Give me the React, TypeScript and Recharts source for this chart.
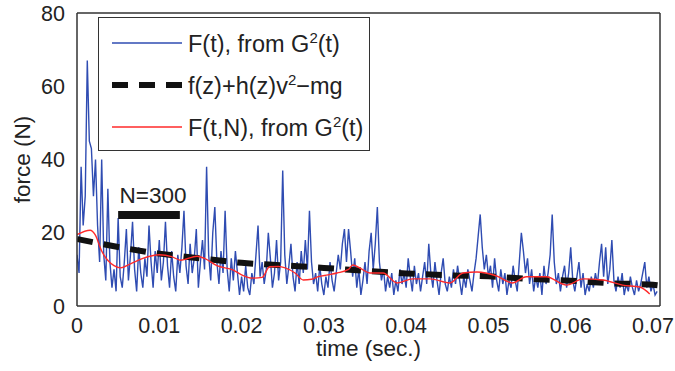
import { LineChart, Line, XAxis, YAxis, ReferenceLine, Label, Legend } from "recharts";

document.body.style.margin = "0";

const FONT = "'Liberation Sans', Arial, sans-serif";
const AXIS = "#333";

const xTicks = [0, 0.01, 0.02, 0.03, 0.04, 0.05, 0.06, 0.07];
const yTicks = [0, 20, 40, 60, 80];
const X_MAX = 0.07085;

// F(t) from G^2(t), sampled every 0.25 ms
const BLUE_DT = 0.00025;
const blueForce = [
  14, 9, 38, 22, 30, 67, 45, 43, 30, 40, 22, 12, 40, 14, 7, 32,
  12, 5, 10, 4, 24, 8, 5, 12, 21, 7, 14, 23, 10, 4, 16, 9,
  5, 13, 8, 22, 12, 5, 15, 9, 18, 7, 12, 23, 11, 5, 15, 8,
  4, 14, 9, 16, 26, 11, 6, 17, 9, 13, 21, 5, 12, 18, 10, 38,
  14, 7, 20, 27, 12, 6, 15, 9, 26, 10, 4, 13, 7, 15, 9, 3,
  8, 4, 11, 5, 3, 9, 6, 14, 22, 8, 12, 6, 10, 20, 13, 5,
  9, 18, 7, 12, 37, 14, 6, 11, 17, 8, 4, 12, 6, 15, 9, 18,
  10, 26, 12, 6, 9, 4, 11, 6, 3, 8, 5, 12, 7, 4, 9, 14,
  10, 17, 21, 12, 21, 15, 8, 13, 5, 10, 3, 7, 12, 6, 15, 20,
  10, 17, 27, 12, 7, 10, 4, 8, 5, 9, 3, 7, 4, 10, 6, 9,
  5, 13, 8, 4, 11, 6, 9, 4, 8, 12, 6, 17, 9, 5, 12, 7,
  3, 9, 13, 6, 4, 8, 5, 10, 6, 11, 7, 3, 8, 5, 10, 7,
  4, 9, 13, 19, 25, 16, 10, 14, 8, 11, 5, 13, 7, 4, 10, 6,
  9, 3, 7, 5, 11, 7, 4, 12, 20, 15, 9, 13, 6, 10, 4, 8,
  5, 9, 3, 11, 6, 9, 14, 25, 12, 6, 9, 4, 8, 11, 5, 9,
  16, 7, 4, 8, 12, 5, 9, 3, 6, 4, 8, 5, 9, 6, 12, 17,
  8, 16, 6, 10, 18, 7, 4, 8, 5, 9, 3, 6, 4, 8, 5, 3,
  7, 4, 6, 9, 12, 5, 8, 4, 6, 3, 4,
];

// F(t,N) from G^2(t)
const redTime = [
  0, 0.0016, 0.0022, 0.003, 0.0045, 0.0053, 0.0065, 0.008, 0.01, 0.0115,
  0.0126, 0.0146, 0.0155, 0.017, 0.019, 0.02, 0.0213, 0.0225, 0.0234, 0.0245,
  0.0253, 0.0265, 0.0275, 0.0285, 0.0293, 0.0305, 0.0316, 0.033, 0.0335, 0.0345,
  0.0356, 0.0372, 0.0389, 0.0408, 0.0429, 0.0453, 0.0469, 0.0486, 0.051, 0.0529,
  0.0546, 0.057, 0.0595, 0.0615, 0.0639, 0.0663, 0.0684, 0.0696,
];
const redForce = [
  19.5, 20.7, 19.5, 15, 11, 10.4, 11.5, 13, 14, 13.5,
  12.5, 13.6, 13, 11, 9.8, 8.5, 7.6, 7.8, 10.7, 10.8,
  10.4, 9, 7.1, 7.3, 8, 8.5, 9, 10, 11.2, 10.2,
  9, 9, 6.3, 7.4, 7.4, 6.3, 9, 9.3, 8.2, 6.3,
  8, 8, 5.7, 7.4, 7.1, 5.7, 5.2, 3.3,
];

// f(z)+h(z)v^2-mg
const modelTime = [
  0, 0.005, 0.01, 0.015, 0.02, 0.025, 0.03, 0.035, 0.04, 0.045,
  0.05, 0.055, 0.06, 0.065, 0.07, 0.07085,
];
const modelForce = [
  18.3, 16.1, 14.3, 13, 11.8, 11.1, 10.4, 9.6, 8.9, 8.4,
  8.1, 7.4, 6.9, 6.2, 5.8, 5.6,
];

const blueData = blueForce.map((f, i) => ({ t: i * BLUE_DT, f }));
const redData = redTime.map((t, i) => ({ t, f: redForce[i] }));
const modelData = modelTime.map((t, i) => ({ t, f: modelForce[i] }));

const fmt = (v: number) => String(v);
const noLabel = () => <g />;

const Sample = ({ color, width, dash }: { color: string; width: number; dash?: string }) => (
  <svg width={70} height={10} style={{ marginLeft: 13, flex: "none" }}>
    <line x1={0} y1={5} x2={70} y2={5} stroke={color} strokeWidth={width} strokeDasharray={dash} />
  </svg>
);

const sup = { fontSize: 15 };

const LegendBox = () => (
  <div
    style={{
      width: 272,
      height: 134,
      boxSizing: "border-box",
      border: `1px solid ${AXIS}`,
      background: "#fff",
      fontFamily: FONT,
      fontSize: 23.5,
      color: "#222",
      paddingTop: 4,
      whiteSpace: "nowrap",
    }}
  >
    <div style={{ height: 42, display: "flex", alignItems: "center" }}>
      <Sample color="#2f4cb2" width={1.5} />
      <span style={{ marginLeft: 6 }}>
        F(t), from G<sup style={sup}>2</sup>(t)
      </span>
    </div>
    <div style={{ height: 42, display: "flex", alignItems: "center" }}>
      <Sample color="#111" width={6} dash="16 11" />
      <span style={{ marginLeft: 6 }}>
        f(z)+h(z)v<sup style={sup}>2</sup>−mg
      </span>
    </div>
    <div style={{ height: 42, display: "flex", alignItems: "center" }}>
      <Sample color="#ff2a2a" width={1.5} />
      <span style={{ marginLeft: 6 }}>
        F(t,N), from G<sup style={sup}>2</sup>(t)
      </span>
    </div>
  </div>
);

const tickStyle = { fill: "#222", fontSize: 21.5, fontFamily: FONT };
const labelStyle = { fill: "#222", fontSize: 22.5, fontFamily: FONT };
const innerTick = { stroke: AXIS, strokeWidth: 1.5 };

export default function App() {
  return (
    <LineChart width={675} height={371} margin={{ top: 13, right: 15, bottom: 35, left: 0 }}>
      <XAxis
        type="number"
        dataKey="t"
        domain={[0, X_MAX]}
        ticks={xTicks}
        tickFormatter={fmt}
        allowDataOverflow
        height={30}
        tickLine={false}
        tickSize={0}
        tickMargin={12}
        axisLine={{ stroke: AXIS, strokeWidth: 1.5 }}
        tick={tickStyle}
      >
        <Label value="time (sec.)" position="bottom" offset={4} style={labelStyle} />
      </XAxis>
      <XAxis
        xAxisId="bin"
        type="number"
        domain={[0, X_MAX]}
        ticks={xTicks}
        allowDataOverflow
        mirror
        tick={noLabel}
        axisLine={false}
        tickSize={5}
        tickLine={innerTick}
      />
      <XAxis
        xAxisId="top"
        orientation="top"
        type="number"
        domain={[0, X_MAX]}
        ticks={xTicks}
        allowDataOverflow
        mirror
        tick={noLabel}
        tickSize={5}
        axisLine={{ stroke: AXIS, strokeWidth: 1.5 }}
        tickLine={innerTick}
      />
      <YAxis
        type="number"
        domain={[0, 80]}
        ticks={yTicks}
        allowDataOverflow
        width={77}
        tickLine={false}
        tickSize={0}
        tickMargin={12}
        axisLine={{ stroke: AXIS, strokeWidth: 1.5 }}
        tick={tickStyle}
      >
        <Label
          value="force (N)"
          angle={-90}
          position="insideLeft"
          offset={22}
          style={{ ...labelStyle, textAnchor: "middle" }}
        />
      </YAxis>
      <YAxis
        yAxisId="lin"
        type="number"
        domain={[0, 80]}
        ticks={yTicks}
        mirror
        tick={noLabel}
        axisLine={false}
        tickSize={5}
        tickLine={innerTick}
      />
      <YAxis
        yAxisId="right"
        orientation="right"
        type="number"
        domain={[0, 80]}
        ticks={yTicks}
        mirror
        tick={noLabel}
        tickSize={5}
        axisLine={{ stroke: AXIS, strokeWidth: 1.5 }}
        tickLine={innerTick}
      />
      <Line
        data={blueData}
        dataKey="f"
        type="linear"
        stroke="#2f4cb2"
        strokeWidth={1.4}
        dot={false}
        isAnimationActive={false}
      />
      <Line
        data={modelData}
        dataKey="f"
        type="monotone"
        stroke="#111"
        strokeWidth={6}
        strokeDasharray="16 11"
        dot={false}
        isAnimationActive={false}
      />
      <Line
        data={redData}
        dataKey="f"
        type="monotone"
        stroke="#ff2a2a"
        strokeWidth={1.4}
        dot={false}
        isAnimationActive={false}
      />
      <ReferenceLine
        segment={[
          { x: 0.005, y: 24.85 },
          { x: 0.0125, y: 24.85 },
        ]}
        stroke="#111"
        strokeWidth={8}
        ifOverflow="visible"
      >
        <Label value="N=300" position="top" offset={12} dx={4} style={labelStyle} />
      </ReferenceLine>
      <Legend
        layout="vertical"
        align="center"
        verticalAlign="middle"
        wrapperStyle={{ left: 98, top: 17, width: 272, height: 134 }}
        content={() => <LegendBox />}
      />
    </LineChart>
  );
}
